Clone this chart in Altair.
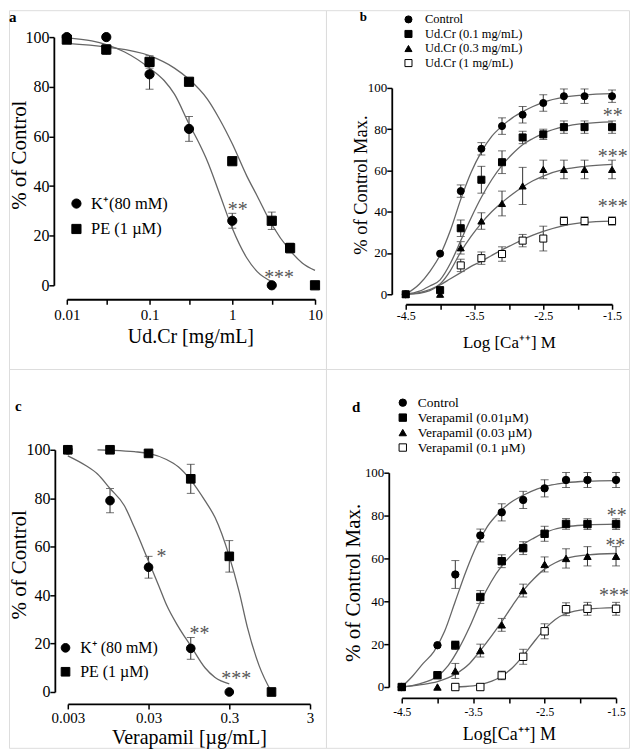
import altair as alt
import pandas as pd

FONT = "Liberation Serif"

# ---------------- Panel a ----------------
A_SERIES = ["K⁺(80 mM)", "PE (1 µM)"]
A_K_X = [0.01, 0.03, 0.1, 0.3, 1, 3]
A_K_Y = [100, 100, 85, 63, 26, 0]
A_K_E = [0, 0, 6, 5, 3, 0]
A_PE_X = [0.01, 0.03, 0.1, 0.3, 1, 3, 5, 10]
A_PE_Y = [99, 95, 90, 82, 50, 26, 15, 0]
A_PE_E = [1, 2, 2.5, 1, 1, 3.5, 2, 0]
A_K_CX = [0.01, 0.02, 0.03, 0.05, 0.1, 0.15, 0.2, 0.3, 0.4, 0.5, 0.7, 1, 1.5, 2, 3]
A_K_CY = [99.7, 98.5, 97, 94, 87.5, 82.5, 77, 65, 57, 50, 37, 23, 11, 5.5, 1.5]
A_PE_CX = [0.01, 0.03, 0.1, 0.2, 0.3, 0.5, 0.7, 1, 1.5, 2, 3, 5, 7, 10]
A_PE_CY = [97.5, 96, 92.5, 87.5, 83, 75, 67, 57, 44, 36, 24.5, 14, 9, 6]
A_STAR_T = ["**", "***"]
A_STAR_X = [1.165, 3.68]
A_STAR_Y = [31.7, 4.0]

# ---------------- Panel b ----------------
B_SERIES = ["Control", "Ud.Cr (0.1 mg/mL)", "Ud.Cr (0.3 mg/mL)", "Ud.Cr (1 mg/mL)"]
B_X = [-4.5, -4.0, -3.7, -3.4, -3.1, -2.8, -2.5, -2.2, -1.9, -1.5]
B_CTRL_Y = [0, 19.7, 50, 70.5, 81.5, 87, 92.7, 96, 96, 96]
B_CTRL_E = [0, 0, 3, 3, 4, 4, 4, 3.5, 3.5, 3]
B_S1_Y = [0, 2, 32, 55.5, 64, 76, 77.5, 81, 81, 81]
B_S1_E = [0, 0, 4, 6.5, 5.5, 3, 2.5, 3, 3, 3]
B_S3_Y = [0, 0, 22.5, 35.5, 44, 52.5, 60.5, 60.5, 60.5, 60.5]
B_S3_E = [0, 0, 3, 4, 6, 9, 4.5, 4.5, 4.5, 4.5]
B_S10_X = [-3.7, -3.4, -3.1, -2.8, -2.5, -2.2, -1.9, -1.5]
B_S10_Y = [14, 17.5, 19.5, 26, 27, 35.5, 35.5, 35.5]
B_S10_E = [3, 3, 3.5, 3, 6, 2, 2, 2]
B_CX = [-4.5, -4.3, -4.15, -4.0, -3.85, -3.7, -3.55, -3.4, -3.25, -3.1, -2.95, -2.8, -2.65, -2.5, -2.2, -1.9, -1.5]
B_CTRL_CY = [0, 5, 11, 19, 31, 46, 59, 69, 76.5, 81.5, 85.5, 88.5, 91, 93, 95.5, 96.6, 97.2]
B_S1_CY = [0, 1.5, 4, 7, 15, 26, 37, 47, 55.5, 62.5, 68, 72.5, 75.5, 78, 81.2, 82.8, 83.6]
B_S3_CY = [0, 0.8, 2.3, 5, 11.5, 20.5, 28, 34.5, 40, 44.5, 48.5, 52, 55, 57.3, 60.5, 62, 63]
B_S10_CY = [0, 0.5, 1.8, 4.5, 7.5, 10.5, 13.5, 16, 18.8, 21.5, 24, 26.5, 28.7, 30.5, 33.3, 34.8, 35.5]
B_STAR_T = ["**", "***", "***"]
B_STAR_X = [-1.49, -1.49, -1.49]
B_STAR_Y = [87.9, 67.9, 43.7]

# ---------------- Panel c ----------------
C_SERIES = ["K⁺ (80 mM)", "PE (1 µM)"]
C_K_X = [0.003, 0.01, 0.03, 0.1, 0.3]
C_K_Y = [100, 79, 51.5, 18, 0]
C_K_E = [0, 5, 4.5, 4.5, 0]
C_PE_X = [0.003, 0.01, 0.03, 0.1, 0.3, 1]
C_PE_Y = [100, 100, 98.5, 88, 56, 0]
C_PE_E = [0, 0, 1, 6, 6.5, 0]
C_K_CX = [0.003, 0.005, 0.007, 0.01, 0.015, 0.02, 0.03, 0.04, 0.05, 0.07, 0.1, 0.15, 0.2, 0.3]
C_K_CY = [97.5, 93.5, 90, 84, 77, 68, 54, 44, 36, 27, 19, 10, 6, 3.4]
C_PE_CX = [0.007, 0.01, 0.02, 0.03, 0.05, 0.07, 0.1, 0.15, 0.2, 0.3, 0.4, 0.5, 0.7, 1]
C_PE_CY = [100, 99.8, 99.2, 98.5, 96, 93, 87.5, 79, 72, 56, 41, 27, 11, 0]
C_STAR_T = ["*", "**", "***"]
C_STAR_X = [0.0434, 0.128, 0.366]
C_STAR_Y = [56.8, 25.1, 6.6]

# ---------------- Panel d ----------------
D_SERIES = ["Control", "Verapamil (0.01µM)", "Verapamil (0.03 µM)", "Verapamil (0.1 µM)"]
D_X = [-4.5, -4.0, -3.75, -3.4, -3.1, -2.8, -2.5, -2.2, -1.9, -1.5]
D_CTRL_Y = [0, 19.5, 52.5, 70.7, 81.5, 87.3, 92.7, 96.6, 96.6, 96.6]
D_CTRL_E = [0, 0, 6.5, 3, 4, 4, 4, 3.5, 3.5, 3.5]
D_S1_Y = [0, 5.5, 19.5, 42, 58.7, 64.8, 71.5, 76.1, 76, 76]
D_S1_E = [0, 0, 2, 3, 3, 3, 3.5, 2.5, 2.5, 2.5]
D_S3_Y = [0, 0, 7.5, 17, 29, 45, 57.2, 60, 61, 61]
D_S3_E = [0, 0, 3.5, 3, 3, 3, 3.5, 4.5, 4.5, 4.5]
D_S10_X = [-3.75, -3.4, -3.1, -2.8, -2.5, -2.2, -1.9, -1.5]
D_S10_Y = [0, 0, 5.4, 14.1, 26, 36.3, 36.5, 36.5]
D_S10_E = [0, 0, 2, 3.5, 3.5, 3, 3, 3]
D_CTRL_CX = [-4.5, -4.35, -4.2, -4.05, -3.9, -3.75, -3.6, -3.45, -3.3, -3.15, -3.0, -2.8, -2.6, -2.4, -2.2, -1.9, -1.5]
D_CTRL_CY = [0, 5, 11, 16.5, 26, 40, 54, 66, 75, 81, 85.5, 89.5, 92.5, 94.3, 95.3, 96, 96.3]
D_S1_CX = [-4.5, -4.25, -4.0, -3.85, -3.7, -3.55, -3.4, -3.25, -3.1, -2.95, -2.8, -2.65, -2.5, -2.2, -1.9, -1.5]
D_S1_CY = [0, 1.5, 5, 10, 18, 28, 39.5, 49, 56.5, 62, 66.5, 69.5, 72, 74.8, 75.6, 76]
D_S3_CX = [-4.5, -4.25, -4.0, -3.75, -3.55, -3.4, -3.25, -3.1, -2.95, -2.8, -2.65, -2.5, -2.35, -2.2, -1.9, -1.5]
D_S3_CY = [0, 1, 2.5, 6, 11, 17, 23.5, 30.5, 38, 45, 50.5, 55, 58, 60, 61.7, 62.3]
D_S10_CX = [-3.75, -3.5, -3.3, -3.1, -2.95, -2.8, -2.65, -2.5, -2.35, -2.2, -1.9, -1.5]
D_S10_CY = [0, 0.5, 2, 5, 9, 14.5, 21, 27, 31.5, 34.3, 36.3, 37]
D_STAR_T = ["**", "**", "***"]
D_STAR_X = [-1.49, -1.51, -1.53]
D_STAR_Y = [81.4, 67, 43.7]

Y_TICKS = [0, 20, 40, 60, 80, 100]


def points_df(groups):
    rows = []
    for name, xs, ys, es in groups:
        for x, y, e in zip(xs, ys, es):
            rows.append({"series": name, "x": x, "y": y, "lo": y - e, "hi": y + e, "err": e})
    return pd.DataFrame(rows)


def curves_df(groups):
    rows = []
    for name, xs, ys in groups:
        for i, (x, y) in enumerate(zip(xs, ys)):
            rows.append({"series": name, "x": x, "y": y, "i": i})
    return pd.DataFrame(rows)


def make_panel(P):
    if P["log"]:
        xscale = alt.Scale(type="log", domain=P["xdom"], range=P["xrange"], nice=False)
    else:
        xscale = alt.Scale(domain=P["xdom"], range=P["xrange"], nice=False, zero=False)
    yscale = alt.Scale(domain=[0, 100], range=P["yrange"], nice=False, zero=False)
    xkw = dict(values=P["xticks"], labelExpr=P["labelExpr"])
    if P["log"]:
        xkw["format"] = "~g"
    xaxis = alt.Axis(
        offset=P["xoff"], grid=False, tickSize=5, tickWidth=1.5, tickColor="black",
        domainColor="black", domainWidth=1.8, labelFont=FONT, labelFontSize=P["xlab_fs"],
        labelColor="black", labelPadding=P["xlab_pad"], labelFlush=False, labelOverlap=False,
        titleFont=FONT, titleFontSize=P["xtitle_fs"], titleFontWeight="normal", titleColor="black",
        titleX=P["xtitle_x"], titleY=P["xtitle_y"], titleBaseline="alphabetic", titleAlign="center",
        **xkw,
    )
    yaxis = alt.Axis(
        values=Y_TICKS, offset=P["yoff"], grid=False, tickSize=5, tickWidth=1.5, tickColor="black",
        domainColor="black", domainWidth=1.8, labelFont=FONT, labelFontSize=P["ylab_fs"],
        labelColor="black", labelPadding=0, labelFlush=False, labelOverlap=False,
        titleFont=FONT, titleFontSize=P["ytitle_fs"], titleFontWeight="normal", titleColor="black",
        titleX=P["ytitle_x"], titleY=P["ytitle_y"], titleAngle=270, titleBaseline="alphabetic",
        titleAlign="center",
    )

    def X(f):
        return alt.X(f, scale=xscale, axis=xaxis, title=P["xtitle"])

    def Y(f):
        return alt.Y(f, scale=yscale, axis=yaxis, title=P["ytitle"])

    leg = alt.Legend(
        title=None, orient="none", legendX=P["legX"], legendY=P["legY"],
        symbolSize=P["msize"], symbolStrokeWidth=1,
        labelFont=FONT, labelFontSize=P["leg_fs"], labelColor="black", labelLimit=0,
        rowPadding=P["leg_rowpad"], labelOffset=P["leg_laboff"], symbolOffset=0, padding=0,
    )

    pdf = P["points"]
    cdf = P["curves"]
    n = len(P["series"])

    eb = alt.Chart(pdf).transform_filter("datum.err > 0")
    rule = eb.mark_rule(color="#333333", strokeWidth=1).encode(x=X("x:Q"), y=Y("lo:Q"), y2="hi:Q")
    cap_lo = eb.mark_tick(orient="horizontal", size=8, thickness=1, color="#333333").encode(
        x=X("x:Q"), y=Y("lo:Q"))
    cap_hi = eb.mark_tick(orient="horizontal", size=8, thickness=1, color="#333333").encode(
        x=X("x:Q"), y=Y("hi:Q"))

    curves = alt.Chart(cdf).mark_line(color="#666666", strokeWidth=1.3, interpolate="monotone").encode(
        x=X("x:Q"), y=Y("y:Q"), detail="series:N", order="i:Q")

    pts = alt.Chart(pdf).mark_point(filled=True, strokeWidth=1, opacity=1,
                                    size=P["msize"]).encode(
        x=X("x:Q"), y=Y("y:Q"),
        shape=alt.Shape("series:N", scale=alt.Scale(domain=P["series"], range=P["shapes"]), legend=leg),
        fill=alt.Fill("series:N", scale=alt.Scale(domain=P["series"], range=P["fills"]), legend=leg),
        stroke=alt.Stroke("series:N", scale=alt.Scale(domain=P["series"], range=["black"] * n),
                          legend=leg),
    )

    stars = alt.Chart(P["stars"]).mark_text(font=FONT, fontSize=20, color="#555555", dy=3,
                                            align="center", baseline="middle").encode(
        x=X("x:Q"), y=Y("y:Q"), text="t:N")

    lab = alt.Chart(pd.DataFrame({"t": [P["label"]]})).mark_text(
        font=FONT, fontSize=P["label_fs"], fontWeight="bold", align="left", baseline="alphabetic",
        color="black").encode(x=alt.value(P["label_x"]), y=alt.value(P["label_y"]), text="t:N")

    return alt.layer(rule, cap_lo, cap_hi, curves, pts, stars, lab).properties(
        width=P["w"], height=P["h"])


panel_a = make_panel(dict(
    w=318, h=360, log=True, xdom=[0.01, 10], xrange=[58, 307], yrange=[276, 27],
    xticks=[0.01, 0.03, 0.1, 0.3, 1, 3, 10],
    labelExpr="indexof(['0.01','0.1','1','10'], datum.label) >= 0 ? datum.label : ''",
    xoff=-70, yoff=-45, xlab_fs=15, xlab_pad=3, ylab_fs=16,
    xtitle="Ud.Cr [mg/mL]", xtitle_fs=20, xtitle_x=182, xtitle_y=43,
    ytitle="% of Control", ytitle_fs=21, ytitle_x=-28, ytitle_y=145,
    legX=59.4, legY=185.75, msize=85, leg_fs=16.5, leg_rowpad=8.5, leg_laboff=6.4,
    series=A_SERIES, shapes=["circle", "square"], fills=["black", "black"],
    points=points_df([(A_SERIES[0], A_K_X, A_K_Y, A_K_E), (A_SERIES[1], A_PE_X, A_PE_Y, A_PE_E)]),
    curves=curves_df([(A_SERIES[0], A_K_CX, A_K_CY), (A_SERIES[1], A_PE_CX, A_PE_CY)]),
    stars=pd.DataFrame({"t": A_STAR_T, "x": A_STAR_X, "y": A_STAR_Y}),
    label="a", label_fs=15, label_x=0, label_y=12,
))

B_LABELS = "datum.value % 1 != 0 ? '-' + format(abs(datum.value), '.1f') : ''"

panel_b = make_panel(dict(
    w=304, h=360, log=False, xdom=[-4.5, -1.5], xrange=[80, 287], yrange=[285, 78],
    xticks=[-4.5, -4, -3.5, -3, -2.5, -2, -1.5], labelExpr=B_LABELS,
    xoff=-65, yoff=-66, xlab_fs=12, xlab_pad=1, ylab_fs=13,
    xtitle="Log [Ca⁺⁺] M", xtitle_fs=17, xtitle_x=183.5, xtitle_y=43,
    ytitle="% of Control Max.", ytitle_fs=18.5, ytitle_x=-25, ytitle_y=175,
    legX=76.5, legY=3, msize=50, leg_fs=12.5, leg_rowpad=1.6, leg_laboff=10.4,
    series=B_SERIES, shapes=["circle", "square", "triangle-up", "square"],
    fills=["black", "black", "black", "white"],
    points=points_df([(B_SERIES[3], B_S10_X, B_S10_Y, B_S10_E),
                      (B_SERIES[0], B_X, B_CTRL_Y, B_CTRL_E),
                      (B_SERIES[2], B_X, B_S3_Y, B_S3_E),
                      (B_SERIES[1], B_X, B_S1_Y, B_S1_E)]),
    curves=curves_df([(B_SERIES[0], B_CX, B_CTRL_CY), (B_SERIES[1], B_CX, B_S1_CY),
                      (B_SERIES[2], B_CX, B_S3_CY), (B_SERIES[3], B_CX, B_S10_CY)]),
    stars=pd.DataFrame({"t": B_STAR_T, "x": B_STAR_X, "y": B_STAR_Y}),
    label="b", label_fs=13, label_x=34, label_y=11,
))

panel_c = make_panel(dict(
    w=318, h=380, log=True, xdom=[0.003, 3], xrange=[59, 302], yrange=[324, 81],
    xticks=[0.003, 0.03, 0.3, 3], labelExpr="datum.label",
    xoff=-44, yoff=-46, xlab_fs=15, xlab_pad=2, ylab_fs=16,
    xtitle="Verapamil [µg/mL]", xtitle_fs=20, xtitle_x=180.5, xtitle_y=40,
    ytitle="% of Control", ytitle_fs=21, ytitle_x=-29, ytitle_y=196,
    legX=48.7, legY=271.7, msize=75, leg_fs=16, leg_rowpad=8, leg_laboff=6.7,
    series=C_SERIES, shapes=["circle", "square"], fills=["black", "black"],
    points=points_df([(C_SERIES[0], C_K_X, C_K_Y, C_K_E), (C_SERIES[1], C_PE_X, C_PE_Y, C_PE_E)]),
    curves=curves_df([(C_SERIES[0], C_K_CX, C_K_CY), (C_SERIES[1], C_PE_CX, C_PE_CY)]),
    stars=pd.DataFrame({"t": C_STAR_T, "x": C_STAR_X, "y": C_STAR_Y}),
    label="c", label_fs=15, label_x=6, label_y=42,
))

panel_d = make_panel(dict(
    w=304, h=380, log=False, xdom=[-4.5, -1.5], xrange=[76, 291], yrange=[319, 104],
    xticks=[-4.5, -4, -3.5, -3, -2.5, -2, -1.5], labelExpr=B_LABELS,
    xoff=-50, yoff=-63, xlab_fs=11.5, xlab_pad=3.5, ylab_fs=13,
    xtitle="Log[Ca⁺⁺] M", xtitle_fs=18, xtitle_x=183.5, xtitle_y=42,
    ytitle="% of Control Max.", ytitle_fs=21, ytitle_x=-29, ytitle_y=214,
    legX=70.3, legY=27, msize=55, leg_fs=13.5, leg_rowpad=0, leg_laboff=8.3,
    series=D_SERIES, shapes=["circle", "square", "triangle-up", "square"],
    fills=["black", "black", "black", "white"],
    points=points_df([(D_SERIES[3], D_S10_X, D_S10_Y, D_S10_E),
                      (D_SERIES[0], D_X, D_CTRL_Y, D_CTRL_E),
                      (D_SERIES[2], D_X, D_S3_Y, D_S3_E),
                      (D_SERIES[1], D_X, D_S1_Y, D_S1_E)]),
    curves=curves_df([(D_SERIES[0], D_CTRL_CX, D_CTRL_CY), (D_SERIES[1], D_S1_CX, D_S1_CY),
                      (D_SERIES[2], D_S3_CX, D_S3_CY), (D_SERIES[3], D_S10_CX, D_S10_CY)]),
    stars=pd.DataFrame({"t": D_STAR_T, "x": D_STAR_X, "y": D_STAR_Y}),
    label="d", label_fs=15, label_x=26, label_y=42.7,
))

chart = alt.concat(panel_a, panel_b, panel_c, panel_d, columns=2, spacing=0,
                   bounds="flush", padding=0).resolve_scale(
    shape="independent", fill="independent", stroke="independent").configure_view(
    stroke="transparent").configure(font=FONT)

chart.save("out.html", embed_options={"renderer": "svg", "actions": False})
